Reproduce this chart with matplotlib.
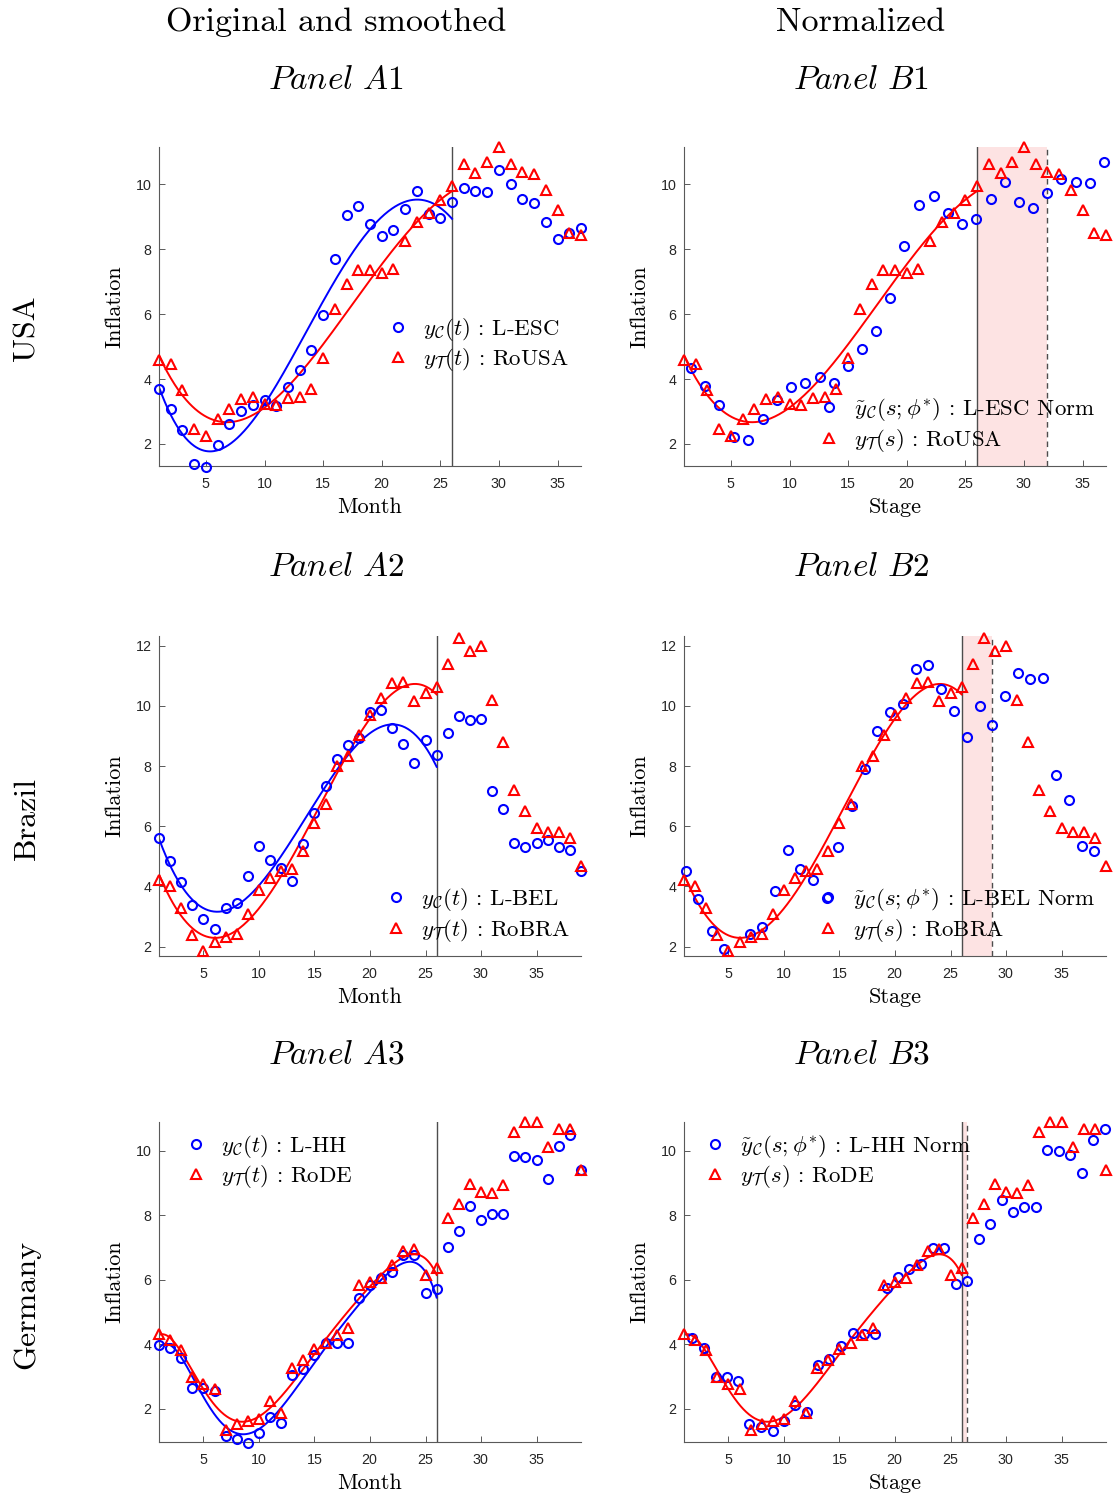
import numpy as np
import matplotlib
matplotlib.use("Agg")
import matplotlib.pyplot as plt

plt.rcParams['font.family'] = 'serif'
plt.rcParams['font.serif'] = ['cmr10']
plt.rcParams['mathtext.fontset'] = 'cm'
plt.rcParams['axes.unicode_minus'] = False
plt.rcParams['axes.formatter.use_mathtext'] = True

# ---------------- data ----------------
usa_t = np.arange(1, 38)
usa_ctrl = [3.68, 3.09, 2.44, 1.39, 1.30, 1.96, 2.62, 3.03, 3.19, 3.36,
            3.18, 3.74, 4.28, 4.88, 5.98, 7.70, 9.06, 9.32, 8.77, 8.40,
            8.58, 9.25, 9.80, 9.10, 8.96, 9.45, 9.89, 9.80, 9.75, 10.45,
            10.02, 9.54, 9.43, 8.85, 8.32, 8.50, 8.65]
usa_treat = [4.58, 4.46, 3.66, 2.45, 2.25, 2.78, 3.09, 3.39, 3.45, 3.23,
             3.20, 3.42, 3.44, 3.70, 4.64, 6.15, 6.94, 7.35, 7.35, 7.27,
             7.40, 8.24, 8.83, 9.12, 9.53, 9.96, 10.62, 10.35, 10.68, 11.15,
             10.62, 10.37, 10.31, 9.84, 9.20, 8.50, 8.44]
usa_norm_s = [1.57, 2.82, 4.00, 5.23, 6.47, 7.70, 8.91, 10.13, 11.35, 12.57,
              13.80, 14.98, 16.20, 17.40, 18.60, 19.80, 21.09, 22.33, 23.53, 24.72,
              25.91, 27.16, 28.35, 29.60, 30.79, 32.00, 33.20, 34.45, 35.67, 36.86]
usa_norm_c = [4.33, 3.78, 3.19, 2.22, 2.12, 2.76, 3.35, 3.74, 3.89, 4.05,
              3.89, 4.41, 4.91, 5.48, 6.50, 8.09, 9.37, 9.63, 9.12, 8.77,
              8.92, 9.56, 10.08, 9.45, 9.28, 9.74, 10.17, 10.06, 10.03, 10.68]

bra_t = np.arange(1, 40)
bra_ctrl = [5.60, 4.84, 4.16, 3.39, 2.92, 2.58, 3.30, 3.45, 4.35, 5.35,
            4.88, 4.61, 4.17, 5.42, 6.43, 7.33, 8.25, 8.71, 8.93, 9.78,
            9.86, 9.26, 8.72, 8.11, 8.85, 8.38, 9.10, 9.66, 9.53, 9.55,
            7.16, 6.56, 5.46, 5.31, 5.46, 5.55, 5.31, 5.20, 4.51]
bra_treat = [4.21, 4.01, 3.30, 2.39, 1.84, 2.15, 2.31, 2.42, 3.10, 3.87,
             4.29, 4.51, 4.58, 5.18, 6.10, 6.74, 8.01, 8.33, 9.02, 9.69,
             10.27, 10.75, 10.80, 10.17, 10.43, 10.63, 11.40, 12.24, 11.82, 11.99,
             10.19, 8.81, 7.22, 6.52, 5.93, 5.82, 5.82, 5.62, 4.69]
bra_norm_s = [1.14, 2.28, 3.48, 4.61, 6.95, 8.02, 9.19, 10.35, 11.49, 12.65,
              13.84, 14.90, 16.09, 17.26, 18.37, 19.56, 20.70, 21.86, 22.97, 24.16,
              25.30, 26.44, 27.63, 28.74, 29.90, 31.07, 32.18, 33.37, 34.51, 35.64,
              36.80, 37.90]
bra_norm_c = [4.51, 3.59, 2.53, 1.91, 2.41, 2.64, 3.85, 5.22, 4.58, 4.21,
              3.61, 5.30, 6.68, 7.89, 9.17, 9.79, 10.06, 11.23, 11.37, 10.55,
              9.82, 8.98, 9.98, 9.35, 10.32, 11.08, 10.90, 10.94, 7.69, 6.86,
              5.35, 5.19]

de_t = np.arange(1, 40)
de_ctrl = [3.97, 3.87, 3.56, 2.64, 2.64, 2.56, 1.15, 1.07, 0.95, 1.26,
           1.75, 1.55, 3.04, 3.22, 3.68, 4.03, 4.03, 4.03, 5.44, 5.85,
           6.06, 6.25, 6.76, 6.76, 5.60, 5.71, 7.03, 7.51, 8.28, 7.86,
           8.04, 8.04, 9.85, 9.81, 9.70, 9.11, 10.14, 10.49, 9.41]
de_treat = [4.32, 4.12, 3.82, 2.98, 2.77, 2.60, 1.34, 1.52, 1.63, 1.67,
            2.25, 1.86, 3.26, 3.51, 3.84, 4.03, 4.28, 4.49, 5.85, 5.93,
            6.06, 6.45, 6.89, 6.95, 6.14, 6.37, 7.92, 8.34, 8.98, 8.71,
            8.68, 8.94, 10.57, 10.90, 10.88, 10.12, 10.66, 10.68, 9.39]
de_norm_s = [1.74, 2.79, 3.84, 4.83, 5.84, 6.88, 7.96, 8.98, 9.99, 11.01,
             12.08, 13.10, 14.10, 15.10, 16.18, 17.23, 18.24, 19.26, 20.28, 21.29,
             22.31, 23.38, 24.43, 25.45, 26.49, 27.57, 28.59, 29.60, 30.62, 31.64,
             32.71, 33.73, 34.75, 35.77, 36.85, 37.87, 38.87]
de_norm_c = [4.18, 3.87, 2.98, 2.98, 2.87, 1.52, 1.42, 1.32, 1.61, 2.11,
             1.90, 3.37, 3.53, 3.95, 4.34, 4.32, 4.32, 5.73, 6.10, 6.33,
             6.50, 6.99, 6.99, 5.87, 5.96, 7.26, 7.74, 8.48, 8.09, 8.25,
             8.25, 10.03, 9.99, 9.87, 9.30, 10.33, 10.66]

treatment_start = [26, 26, 26]
norm_end = [32.0, 28.74, 26.46]
row_names = ["USA", "Brazil", "Germany"]
ctrl_names = ["L-ESC", "L-BEL", "L-HH"]
treat_names = ["RoUSA", "RoBRA", "RoDE"]
ylims = [(1.32, 11.15), (1.69, 12.32), (0.97, 10.89)]
xmax = [37, 39, 39]
smooth_deg = [(4, 4), (4, 4), (6, 6)]

rows = [
    (usa_t, usa_ctrl, usa_treat, usa_norm_s, usa_norm_c),
    (bra_t, bra_ctrl, bra_treat, bra_norm_s, bra_norm_c),
    (de_t, de_ctrl, de_treat, de_norm_s, de_norm_c),
]

BLUE = '#0000ff'
RED = '#ff0000'

W, H = 1113, 1499
fig = plt.figure(figsize=(W / 100, H / 100), dpi=100)

def fx(px):
    return px / W

def fy(py):
    return 1 - py / H

def smooth(t, y, deg, t_end):
    t = np.asarray(t, float)
    y = np.asarray(y, float)
    m = t <= t_end
    p = np.polyfit(t[m], y[m], deg)
    tt = np.linspace(t[m][0], t_end, 300)
    return tt, np.polyval(p, tt)

col_left = [159, 684]
col_w = 422
row_top = [147, 636, 1122]
row_bot = [466, 956, 1442]
legend_pos = [
    [(398, 344.5), (829, 425)],
    [(396, 915), (828, 915)],
    [(196, 1161.5), (715, 1161.5)],
]
MS_C = 6.5
MS_T = 7.0
FS_LEG = 16.5

def style_axes(ax, r):
    for s in ['top', 'right']:
        ax.spines[s].set_visible(False)
    for s in ['left', 'bottom']:
        ax.spines[s].set_color('0.35')
        ax.spines[s].set_linewidth(0.8)
    ax.set_xlim(1, xmax[r])
    ax.set_ylim(*ylims[r])
    ax.set_xticks([5, 10, 15, 20, 25, 30, 35])
    ax.set_yticks([2, 4, 6, 8, 10, 12] if r == 1 else [2, 4, 6, 8, 10])
    ax.tick_params(direction='in', length=4, width=0.7, color='0.35',
                   labelsize=10.3, labelcolor='0.15', labelfontfamily='Liberation Sans')
    ax.tick_params(axis='x', pad=8)
    ax.tick_params(axis='y', pad=5)

for r, (t, yc, yt, ns, nc) in enumerate(rows):
    bottom = fy(row_bot[r])
    height = (row_bot[r] - row_top[r]) / H
    tstart = treatment_start[r]
    dc, dt = smooth_deg[r]
    for c in range(2):
        ax = fig.add_axes([fx(col_left[c]), bottom, col_w / W, height])
        style_axes(ax, r)
        if c == 0:
            ax.axvline(tstart, color='0.3', lw=1.0, zorder=1)
            tt, yy = smooth(t, yc, dc, tstart)
            ax.plot(tt, yy, color=BLUE, lw=1.4, zorder=2)
            tt, yy = smooth(t, yt, dt, tstart)
            ax.plot(tt, yy, color=RED, lw=1.4, zorder=2)
            h1, = ax.plot(t, yc, 'o', ms=MS_C, mfc='none', mec=BLUE, mew=1.5, zorder=3, clip_on=False)
            h2, = ax.plot(t, yt, '^', ms=MS_T, mfc='none', mec=RED, mew=1.5, zorder=3, clip_on=False)
            labels = [r'$y_{\mathcal{C}}(t)$ : ' + ctrl_names[r],
                      r'$y_{\mathcal{T}}(t)$ : ' + treat_names[r]]
            xl = 'Month'
        else:
            ax.axvspan(tstart, norm_end[r], color='#fde3e3', lw=0, zorder=0)
            ax.axvline(tstart, color='0.3', lw=1.0, zorder=1)
            ax.axvline(norm_end[r], color='0.3', lw=1.0, ls=(0, (4, 3)), zorder=1)
            tt, yy = smooth(t, yt, dt, tstart)
            ax.plot(tt, yy, color=RED, lw=1.4, zorder=2)
            h1, = ax.plot(ns, nc, 'o', ms=MS_C, mfc='none', mec=BLUE, mew=1.5, zorder=3, clip_on=False)
            h2, = ax.plot(t, yt, '^', ms=MS_T, mfc='none', mec=RED, mew=1.5, zorder=3, clip_on=False)
            labels = [r'$\tilde{y}_{\mathcal{C}}(s;\phi^{*})$ : ' + ctrl_names[r] + ' Norm',
                      r'$y_{\mathcal{T}}(s)$ : ' + treat_names[r]]
            xl = 'Stage'
        mx, my = legend_pos[r][c]
        hl = 1.0
        anchor_x = mx - 0.5 * hl * FS_LEG * 100 / 72
        ax.legend([h1, h2], labels, loc='center left',
                  bbox_to_anchor=(fx(anchor_x), fy(my)), bbox_transform=fig.transFigure,
                  frameon=False, fontsize=FS_LEG, handlelength=hl, handletextpad=0.6,
                  borderpad=0, borderaxespad=0, labelspacing=0.15)
        cx = col_left[c] + col_w / 2
        fig.text(fx(cx), fy(row_bot[r] + 41), xl, ha='center', va='center', fontsize=16)
        fig.text(fx(col_left[c] - 44), fy((row_top[r] + row_bot[r]) / 2), 'Inflation',
                 rotation=90, ha='center', va='center', fontsize=16)

    # panel titles
    ptop = [80, 567, 1055][r]
    fig.text(fx(336), fy(ptop), r'$\mathit{Panel\ A%d}$' % (r + 1), ha='center', va='center', fontsize=24)
    fig.text(fx(861), fy(ptop), r'$\mathit{Panel\ B%d}$' % (r + 1), ha='center', va='center', fontsize=24)
    fig.text(fx(27), fy((row_top[r] + row_bot[r]) / 2 + 22), row_names[r], rotation=90,
             ha='center', va='center', fontsize=23)

fig.text(fx(336), fy(22), 'Original and smoothed', ha='center', va='center', fontsize=24.5)
fig.text(fx(861), fy(22), 'Normalized', ha='center', va='center', fontsize=24.5)

fig.savefig('out.png', dpi=100)
